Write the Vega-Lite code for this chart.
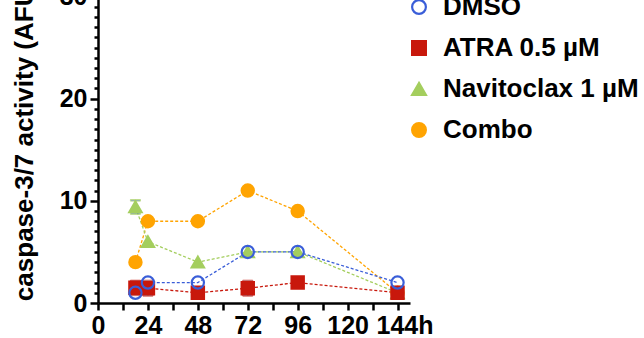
{
  "$schema": "https://vega.github.io/schema/vega-lite/v6.json",
  "autosize": {"type": "none"},
  "width": 312,
  "height": 327,
  "padding": {"left": 98, "top": -24, "right": 234, "bottom": 35},
  "background": "white",
  "title": {
    "text": "(HL-60)",
    "fontSize": 25,
    "font": "Liberation Sans",
    "fontWeight": "bold",
    "color": "black",
    "anchor": "middle",
    "baseline": "alphabetic",
    "dx": 56,
    "offset": -27
  },
  "data": {
    "values": [
      {"series": "Combo", "hours": 18, "afu": 4},
      {"series": "Combo", "hours": 24, "afu": 8},
      {"series": "Combo", "hours": 48, "afu": 8},
      {"series": "Combo", "hours": 72, "afu": 11},
      {"series": "Combo", "hours": 96, "afu": 9},
      {"series": "Combo", "hours": 144, "afu": 1},
      {"series": "Navitoclax 1 µM", "hours": 18, "afu": 9.4, "lo": 8.75, "hi": 10.05},
      {"series": "Navitoclax 1 µM", "hours": 24, "afu": 6},
      {"series": "Navitoclax 1 µM", "hours": 48, "afu": 4},
      {"series": "Navitoclax 1 µM", "hours": 72, "afu": 5},
      {"series": "Navitoclax 1 µM", "hours": 96, "afu": 5},
      {"series": "Navitoclax 1 µM", "hours": 144, "afu": 1},
      {"series": "ATRA 0.5 µM", "hours": 18, "afu": 1.5, "lo": 0.8, "hi": 2.15},
      {"series": "ATRA 0.5 µM", "hours": 24, "afu": 1.45, "lo": 0.75, "hi": 2.15},
      {"series": "ATRA 0.5 µM", "hours": 48, "afu": 1},
      {"series": "ATRA 0.5 µM", "hours": 72, "afu": 1.45, "lo": 0.75, "hi": 2.15},
      {"series": "ATRA 0.5 µM", "hours": 96, "afu": 2},
      {"series": "ATRA 0.5 µM", "hours": 144, "afu": 1},
      {"series": "DMSO", "hours": 18, "afu": 1},
      {"series": "DMSO", "hours": 24, "afu": 2},
      {"series": "DMSO", "hours": 48, "afu": 2},
      {"series": "DMSO", "hours": 72, "afu": 5},
      {"series": "DMSO", "hours": 96, "afu": 5},
      {"series": "DMSO", "hours": 144, "afu": 2}
    ]
  },
  "encoding": {
    "x": {
      "field": "hours",
      "type": "quantitative",
      "scale": {"domain": [0, 150], "nice": false, "zero": false},
      "axis": {
        "title": null,
        "values": [0, 12, 24, 36, 48, 60, 72, 84, 96, 108, 120, 132, 144],
        "labelExpr": "datum.value % 24 === 0 ? (datum.value === 144 ? '144h' : datum.label) : ''",
        "labelOffset": {"condition": {"test": "datum.value === 144", "value": 7}, "value": 0},
        "tickSize": 7,
        "labelPadding": 3,
        "labelOverlap": false,
        "labelBound": false,
        "labelFlush": false
      }
    },
    "y": {
      "field": "afu",
      "type": "quantitative",
      "scale": {"domain": [0, 32], "nice": false},
      "axis": {
        "title": "caspase-3/7 activity (AFU)",
        "values": [0, 1, 2, 3, 4, 5, 6, 7, 8, 9, 10, 11, 12, 13, 14, 15, 16, 17, 18, 19, 20, 21, 22, 23, 24, 25, 26, 27, 28, 29, 30, 31, 32],
        "labelExpr": "datum.value % 10 === 0 ? datum.label : ''",
        "tickSize": {"condition": {"test": "datum.value % 10 === 0", "value": 8}, "value": 4},
        "labelPadding": 3,
        "labelOverlap": false,
        "labelBound": false,
        "titlePadding": 22,
        "titleFontSize": 26
      }
    },
    "stroke": {
      "field": "series",
      "type": "nominal",
      "title": null,
      "scale": {
        "domain": ["DMSO", "ATRA 0.5 µM", "Navitoclax 1 µM", "Combo"],
        "range": ["#3A5ED8", "#C8180C", "#A4CE5E", "#FFA402"]
      }
    }
  },
  "layer": [
    {
      "mark": {"type": "line", "strokeDash": [3, 2], "strokeWidth": 1.3}
    },
    {
      "transform": [{"filter": "datum.lo != null"}],
      "mark": {"type": "errorbar", "ticks": {"size": 10, "thickness": 1.6}, "rule": {"strokeWidth": 1.6}},
      "encoding": {
        "y": {"field": "lo", "type": "quantitative"},
        "y2": {"field": "hi"}
      }
    },
    {
      "mark": {"type": "point", "filled": true, "size": 150, "strokeWidth": 2.2, "opacity": 1},
      "encoding": {
        "shape": {
          "field": "series",
          "type": "nominal",
          "title": null,
          "scale": {
            "domain": ["DMSO", "ATRA 0.5 µM", "Navitoclax 1 µM", "Combo"],
            "range": ["circle", "square", "triangle-up", "circle"]
          }
        },
        "fill": {
          "field": "series",
          "type": "nominal",
          "title": null,
          "scale": {
            "domain": ["DMSO", "ATRA 0.5 µM", "Navitoclax 1 µM", "Combo"],
            "range": ["transparent", "#C8180C", "#A4CE5E", "#FFA402"]
          }
        }
      }
    }
  ],
  "config": {
    "view": {"stroke": null},
    "legend": {
      "orient": "none",
      "legendX": 308,
      "legendY": 18,
      "padding": 0,
      "labelFont": "Liberation Sans",
      "labelFontWeight": "bold",
      "labelFontSize": 26,
      "labelColor": "black",
      "labelLimit": 0,
      "symbolSize": 190,
      "symbolStrokeWidth": 2.2,
      "symbolOpacity": 1,
      "symbolDash": [],
      "rowPadding": 15,
      "labelOffset": 11
    },
    "axis": {
      "grid": false,
      "domainColor": "black",
      "domainWidth": 2.5,
      "tickColor": "black",
      "tickWidth": 2.5,
      "labelFont": "Liberation Sans",
      "labelFontWeight": "bold",
      "labelFontSize": 25,
      "labelColor": "black",
      "titleFont": "Liberation Sans",
      "titleFontWeight": "bold",
      "titleFontSize": 25,
      "titleColor": "black"
    }
  }
}
